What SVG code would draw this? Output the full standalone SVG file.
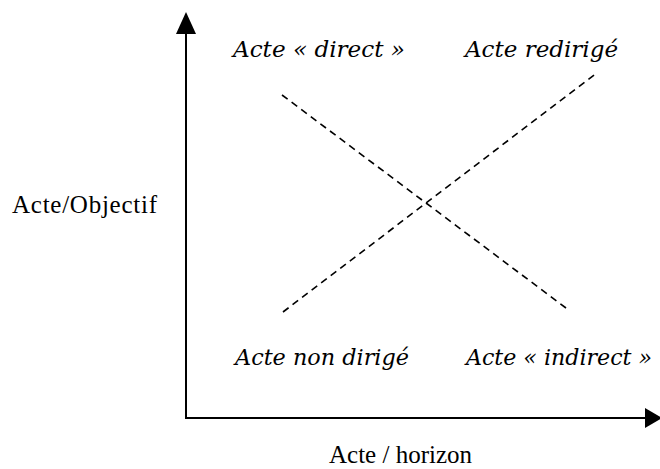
<svg xmlns="http://www.w3.org/2000/svg" width="660" height="469" viewBox="0 0 660 469">
<style>
.axis{stroke:#000;stroke-width:2;fill:none}
.dash{stroke:#000;stroke-width:1.6;stroke-dasharray:7,5;fill:none}
.lab{font-family:"DejaVu Serif","Liberation Serif",serif;font-style:italic;font-size:22px;fill:#000}
.ax{font-family:"Liberation Serif","Times New Roman",serif;font-size:25px;fill:#000}
</style>
<rect width="660" height="469" fill="#fff"/>
<g id="connectors">
<line class="axis" x1="186" y1="418" x2="186" y2="32"/>
<polygon points="186,12 176,34 196,34" fill="#000"/>
<line class="axis" x1="185" y1="418" x2="648" y2="418"/>
<polygon points="662,418 645,408 645,428" fill="#000"/>
<line class="dash" x1="282" y1="95" x2="570" y2="311"/>
<line class="dash" x1="283" y1="312" x2="598" y2="72"/>
</g>
<g id="direct"><text class="lab" x="233" y="57" textLength="172" lengthAdjust="spacingAndGlyphs">Acte « direct »</text></g>
<g id="redirige"><text class="lab" x="465" y="57" textLength="153" lengthAdjust="spacingAndGlyphs">Acte redirigé</text></g>
<g id="nondirige"><text class="lab" x="235" y="365" textLength="174" lengthAdjust="spacingAndGlyphs">Acte non dirigé</text></g>
<g id="indirect"><text class="lab" x="466" y="365" textLength="186" lengthAdjust="spacingAndGlyphs">Acte « indirect »</text></g>
<g id="objectif"><text class="ax" x="12" y="213" textLength="145">Acte/Objectif</text></g>
<g id="horizon"><text class="ax" x="329" y="463">Acte / horizon</text></g>
</svg>
